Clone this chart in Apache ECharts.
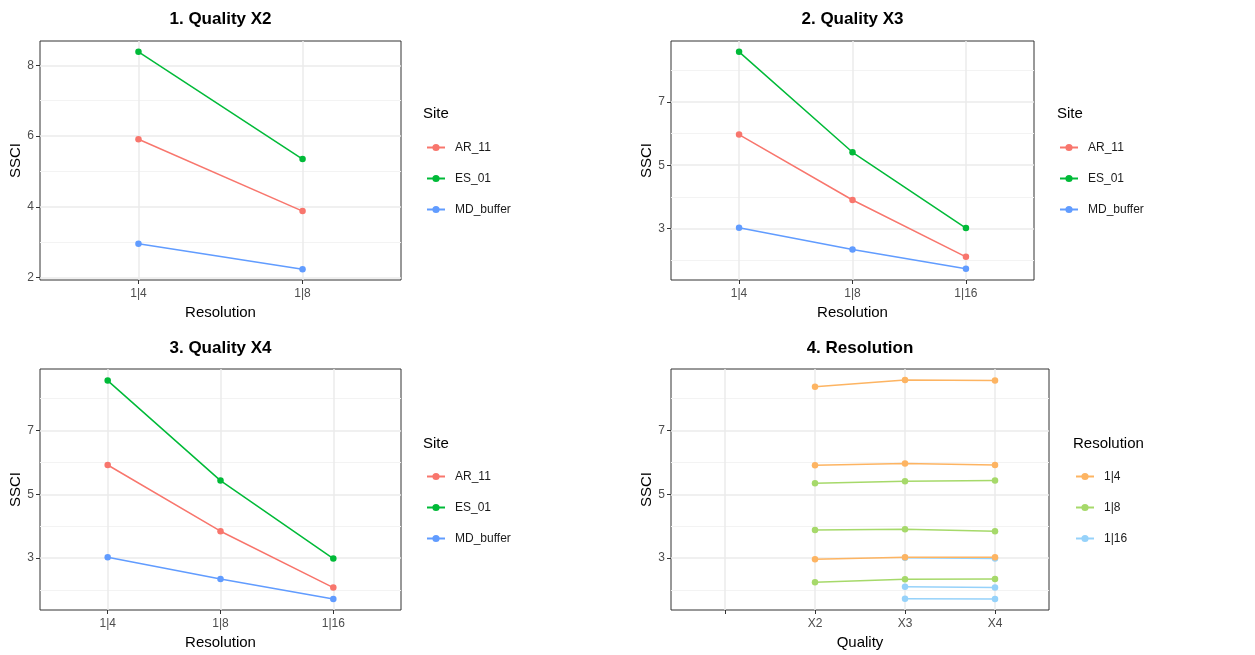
<!DOCTYPE html>
<html>
<head>
<meta charset="utf-8">
<script src="https://cdn.jsdelivr.net/npm/echarts@6/dist/echarts.min.js"></script>
<style>
  html, body { margin: 0; background: #fff; }
  #chart { width: 1255px; height: 655px; }
</style>
</head>
<body>
<div id="chart"></div>
<script>
// 数据：每个质量等级下各站点在不同分辨率的 SSCI
const sites = ['AR_11', 'ES_01', 'MD_buffer'];
const siteColors = ['#F8766D', '#00BA38', '#619CFF'];

const resX2 = ['1|4', '1|8'];
const resX3 = ['1|4', '1|8', '1|16'];
const resX4 = ['1|4', '1|8', '1|16'];

// 行：AR_11, ES_01, MD_buffer；列对应分辨率
const ssciX2 = [[5.91, 3.88], [8.38, 5.35], [2.96, 2.24]];
const ssciX3 = [[5.97, 3.90, 2.10], [8.59, 5.41, 3.01], [3.02, 2.33, 1.72]];
const ssciX4 = [[5.92, 3.84, 2.07], [8.57, 5.43, 2.98], [3.02, 2.34, 1.71]];

const qualityTicks = ['', 'X2', 'X3', 'X4'];
const resolutions = ['1|4', '1|8', '1|16'];
const resColors = ['#FDB462', '#A6D96A', '#96D2FA'];

const majorY1 = [2, 4, 6, 8];
const minorY1 = [3, 5, 7];
const majorY = [3, 5, 7];
const minorY = [2, 4, 6, 8];

const chart = echarts.init(document.getElementById('chart'));

const grids = [
    { left: 40, top: 41, width: 361, height: 239 },
    { left: 671, top: 41, width: 363, height: 239 },
    { left: 40, top: 369, width: 361, height: 241 },
    { left: 671, top: 369, width: 378, height: 241 }
];

// ggplot 风格：数据范围两端各扩 5%
function yRange(tables) {
    const all = tables.flat(2);
    const lo = Math.min(...all), hi = Math.max(...all);
    const pad = (hi - lo) * 0.05;
    return [lo - pad, hi + pad];
}

const tickColor = '#333';
const labelStyle = { color: '#4D4D4D', fontSize: 12, fontFamily: 'Liberation Sans, Arial' };
const nameStyle = { color: '#000', fontSize: 15, fontFamily: 'Liberation Sans, Arial' };

const xAxes = [];
const yAxes = [];
const series = [];

function addAxes(i, labels, major, minor, range, xName) {
    const pos = labels.map((_, k) => k + 1);
    xAxes.push({
        type: 'value', gridIndex: i,
        min: 0.4, max: labels.length + 0.6,
        axisLine: { show: false },
        axisTick: { customValues: pos, length: 4, lineStyle: { color: tickColor } },
        axisLabel: Object.assign({ customValues: pos, margin: 8,
            formatter: v => labels[Math.round(v) - 1] }, labelStyle),
        splitLine: { show: true, lineStyle: { color: '#EBEBEB', width: 1.5 } },
        name: xName, nameLocation: 'middle', nameGap: 25, nameTextStyle: nameStyle
    });
    yAxes.push({
        type: 'value', gridIndex: i,
        min: range[0], max: range[1],
        axisLine: { show: false },
        axisTick: { customValues: major, length: 4, lineStyle: { color: tickColor } },
        axisLabel: Object.assign({ customValues: major, margin: 6 }, labelStyle),
        splitLine: { show: true, lineStyle: { color: '#EBEBEB', width: 1.5 } },
        name: 'SSCI', nameLocation: 'middle', nameGap: 17, nameTextStyle: nameStyle
    });
    // 次网格线
    yAxes.push({
        type: 'value', gridIndex: i,
        min: range[0], max: range[1],
        axisLine: { show: false },
        axisTick: { show: false, customValues: minor },
        axisLabel: { show: false, customValues: minor },
        splitLine: { show: true, lineStyle: { color: '#F3F3F3', width: 1 } }
    });
    return yAxes.length - 2;
}

function lineSeries(name, color, xIdx, yIdx, data) {
    return {
        name: name, type: 'line', xAxisIndex: xIdx, yAxisIndex: yIdx,
        data: data, symbol: 'circle', symbolSize: 6.5,
        itemStyle: { color: color },
        lineStyle: { color: color, width: 1.5 },
        z: 3
    };
}

const rangeAll = yRange([ssciX3, ssciX4]);
const sitePanels = [
    { res: resX2, ssci: ssciX2, major: majorY1, minor: minorY1, range: yRange([ssciX2]) },
    { res: resX3, ssci: ssciX3, major: majorY, minor: minorY, range: rangeAll },
    { res: resX4, ssci: ssciX4, major: majorY, minor: minorY, range: rangeAll }
];

sitePanels.forEach((p, i) => {
    const yIdx = addAxes(i, p.res, p.major, p.minor, p.range, 'Resolution');
    sites.forEach((s, si) => {
        series.push(lineSeries(s, siteColors[si], i, yIdx,
            p.ssci[si].map((v, k) => [k + 1, v])));
    });
});

// 第4幅：按分辨率着色，横轴为质量
const y4 = addAxes(3, qualityTicks, majorY, minorY, rangeAll, 'Quality');
const qTables = [ssciX2, ssciX3, ssciX4];
const qRes = [resX2, resX3, resX4];
[2, 1, 0].forEach(ri => {
    sites.forEach((s, si) => {
        const data = [];
        qTables.forEach((tbl, qi) => {
            const k = qRes[qi].indexOf(resolutions[ri]);
            if (k >= 0) data.push([qi + 2, tbl[si][k]]);
        });
        series.push(lineSeries(resolutions[ri], resColors[ri], 3, y4, data));
    });
});

const panelTitles = ['1. Quality X2', '2. Quality X3', '3. Quality X4', '4. Resolution'];
const titles = panelTitles.map((t, i) => ({
    text: t, padding: 0,
    left: grids[i].left + grids[i].width / 2,
    top: i < 2 ? 11 : 340,
    textAlign: 'center',
    textStyle: { fontSize: 17, fontWeight: 'bold', color: '#000', fontFamily: 'Liberation Sans, Arial' }
}));

const legendPos = [
    { left: 426, top: 141.5, title: 'Site', tl: 423, tt: 106, data: sites },
    { left: 1059, top: 141.5, title: 'Site', tl: 1057, tt: 106, data: sites },
    { left: 426, top: 470.5, title: 'Site', tl: 423, tt: 436, data: sites },
    { left: 1075, top: 470.5, title: 'Resolution', tl: 1073, tt: 436, data: resolutions }
];

legendPos.forEach(l => {
    titles.push({
        text: l.title, padding: 0, left: l.tl, top: l.tt,
        textStyle: { fontSize: 15, fontWeight: 'normal', color: '#000', fontFamily: 'Liberation Sans, Arial' }
    });
});

const legends = legendPos.map(l => ({
    orient: 'vertical', left: l.left, top: l.top, padding: 0,
    data: l.data, itemWidth: 18, itemHeight: 9, itemGap: 19,
    selectedMode: false,
    textStyle: { fontSize: 12, color: '#1A1A1A', padding: [0, 0, 0, 5], fontFamily: 'Liberation Sans, Arial' }
}));

chart.setOption({
    animation: false,
    backgroundColor: '#fff',
    title: titles,
    legend: legends,
    grid: grids.map(g => Object.assign({ show: true, borderColor: '#333', borderWidth: 1, containLabel: false }, g)),
    xAxis: xAxes,
    yAxis: yAxes,
    series: series
});
</script>
</body>
</html>
